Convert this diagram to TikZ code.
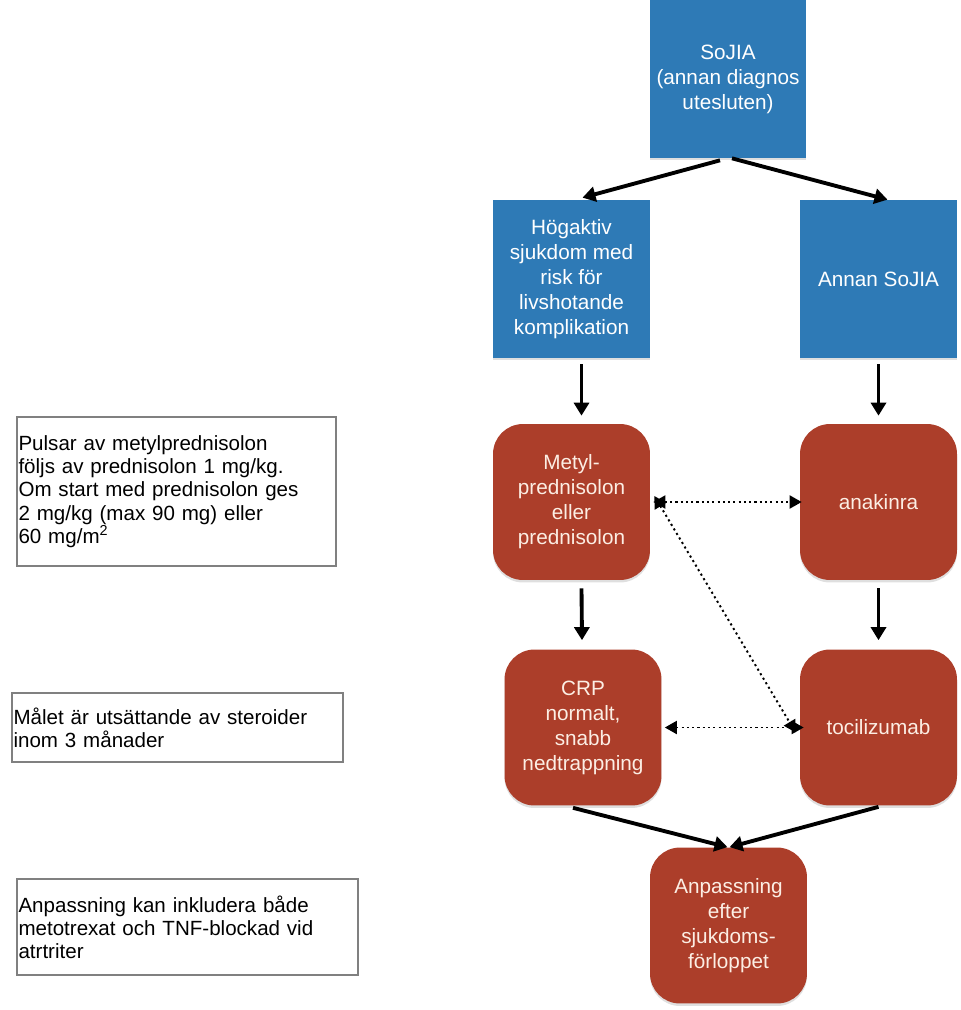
\documentclass[tikz,border=0pt]{standalone}
\usepackage{fontspec}
\setmainfont{Liberation Sans}
\usetikzlibrary{arrows.meta,calc,shadows}
\definecolor{sojiablue}{RGB}{46,122,182}
\definecolor{sojiared}{RGB}{172,62,42}
\definecolor{sojiatext}{RGB}{252,238,228}
\begin{document}
\begin{tikzpicture}[x=0.02cm,y=-0.02cm,
 bluebox/.style={fill=sojiablue,text=white,minimum width=3.14cm,minimum height=3.16cm,inner sep=0pt,align=center,font=\fontsize{11.8}{14.2}\selectfont,drop shadow={shadow xshift=0pt,shadow yshift=-0.05cm,opacity=0.25}},
 redbox/.style={fill=sojiared,text=sojiatext,rounded corners=0.6cm,minimum width=3.14cm,minimum height=3.12cm,inner sep=0pt,align=center,font=\fontsize{11.8}{14.2}\selectfont,drop shadow={shadow xshift=0pt,shadow yshift=-0.05cm,opacity=0.25}},
 notebox/.style={draw=gray,line width=1.1pt,inner xsep=0.03cm,align=left,font=\fontsize{11.7}{13.2}\selectfont},
 arr/.style={line width=2.2pt,-{Triangle[length=0.26cm,width=0.3cm]}},
 dotarr/.style={dash pattern=on 1.2pt off 1.8pt,line width=1.1pt,{Triangle[length=0.24cm,width=0.26cm]}-{Triangle[length=0.24cm,width=0.26cm]}}]
 \useasboundingbox (0,0) rectangle (960,1010);
 \node[bluebox] (sojia) at (728,79) {SoJIA\\(annan diagnos\\utesluten)};
 \node[bluebox] (hog) at (571.5,279) {Högaktiv\\sjukdom med\\risk för\\livshotande\\komplikation};
 \node[bluebox] (annan) at (878.5,279) {Annan SoJIA};
 \node[redbox] (metyl) at (571.5,502) {Metyl-\\prednisolon\\eller\\prednisolon};
 \node[redbox] (anak) at (878.5,502) {anakinra};
 \node[redbox] (crp) at (583,727.5) {CRP\\normalt,\\snabb\\nedtrappning};
 \node[redbox] (toci) at (878.5,727.5) {tocilizumab};
 \node[redbox] (anp) at (728.5,925.5) {Anpassning\\efter\\sjukdoms-\\förloppet};
 \node[notebox,text width=6.32cm,minimum height=2.98cm] (note1) at (176.5,491.5) {Pulsar av metylprednisolon\\följs av prednisolon 1 mg/kg.\\Om start med prednisolon ges\\2 mg/kg (max 90 mg) eller\\60 mg/m\textsuperscript{2}};
 \node[notebox,text width=6.56cm,minimum height=1.38cm] (note2) at (177.5,727.5) {Målet är utsättande av steroider\\inom 3 månader};
 \node[notebox,text width=6.76cm,minimum height=1.92cm] (note3) at (187.5,927) {Anpassning kan inkludera både\\metotrexat och TNF-blockad vid\\atrtriter};
 \draw[arr] ($(sojia.south)+(-8,2)$) -- ($(hog.north)+(11,-2)$);
 \draw[arr] ($(sojia.south)+(4,0)$) -- ($(annan.north)+(9,0)$);
 \draw[arr] ($(hog.south)+(10,6)$) -- ($(metyl.north)+(10,-8)$);
 \draw[arr] ($(annan.south)+(0,6)$) -- ($(anak.north)+(0,-8)$);
 \draw[arr] ($(metyl.south)+(10,8)$) -- ($(crp.north)+(-1,-9)$);
 \draw[arr] ($(anak.south)+(0,8)$) -- ($(toci.north)+(0,-9)$);
 \draw[arr] ($(crp.south)+(-10,2)$) -- ($(anp.north)+(-1,0)$);
 \draw[arr] ($(toci.south)+(0,1)$) -- ($(anp.north)+(1,0)$);
 \draw[dotarr] ($(metyl.east)+(3,0)$) -- ($(anak.west)+(2,0)$);
 \draw[dotarr] ($(metyl.east)+(4,-6)$) -- ($(toci.west)+(-4,5)$);
 \draw[dotarr] ($(crp.east)+(3,0)$) -- ($(toci.west)+(4,0)$);
\end{tikzpicture}
\end{document}
